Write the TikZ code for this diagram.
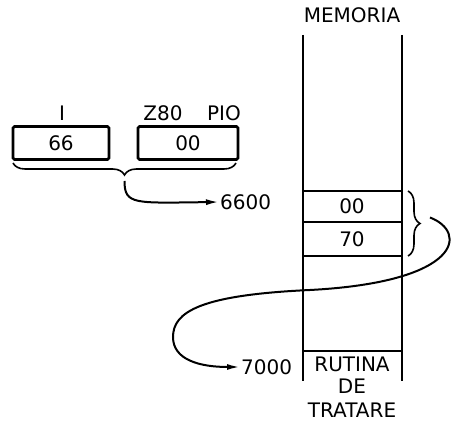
\documentclass[tikz,border=0pt]{standalone}
\usepackage{fontspec}
\setmainfont{DejaVu Sans}
\usetikzlibrary{positioning, calc, arrows.meta, decorations.pathreplacing}

\begin{document}
\begin{tikzpicture}[x=1pt, y=-1pt, font=\fontsize{20}{22}\selectfont,
    reg/.style={draw, line width=2.6pt, rounded corners=1.5pt, minimum width=96pt, minimum height=33pt, inner sep=0pt},
    wall/.style={line width=2.4pt},
    link/.style={line width=2pt, -{Latex[length=13pt, width=6pt]}},
    brc/.style={line width=1.6pt, decorate, decoration={brace, amplitude=12pt}}]
                \useasboundingbox (0,0) rectangle (459,427);
                % registru I si vectorul de la PIO
                \node[reg] (ri) at (61,143) {66};
                \node[reg, minimum width=100pt] (rpio) at (188,143) {00};
                \node (li) at (62,113) {I};
                \node (lz) at (163,113) {Z80};
                \node (lp) at (224,113) {PIO};
                \draw[brc] (236,163) -- (13,163) coordinate[midway] (bi);
                \node[anchor=west, inner sep=1pt] (a6600) at (219,202) {6600};
                \draw[link] ($(bi)+(0,18)$) .. controls ($(bi)+(0,42)$) and ($(bi)+(10,40)$) .. (a6600.west);
                % memoria
                \node (mem) at (352,15) {MEMORIA};
                \draw[wall] (303,35) -- (303,381);
                \draw[wall] (402,35) -- (402,381);
                \foreach \y in {191, 222, 256, 351} {
                    \draw[wall] (303,\y) -- (402,\y);
                }
                \node (c00) at (352,206) {00};
                \node (c70) at (352,239) {70};
                \draw[brc] (408,191) -- (408,256) coordinate[midway] (bm);
                \node[anchor=west, inner sep=1pt] (a7000) at (240,367) {7000};
                \node (rut) at (352,364) {RUTINA};
                \node (de) at (352,386) {DE};
                \node (trt) at (352,410) {TRATARE};
                \draw[link] ($(bm)+(22,-6)$) .. controls (468,232) and (462,282) .. (310,290)
                    .. controls (200,295) and (173,312) .. (173,337)
                    .. controls (173,360) and (200,367) .. (a7000.west);
            \end{tikzpicture}
\end{document}
